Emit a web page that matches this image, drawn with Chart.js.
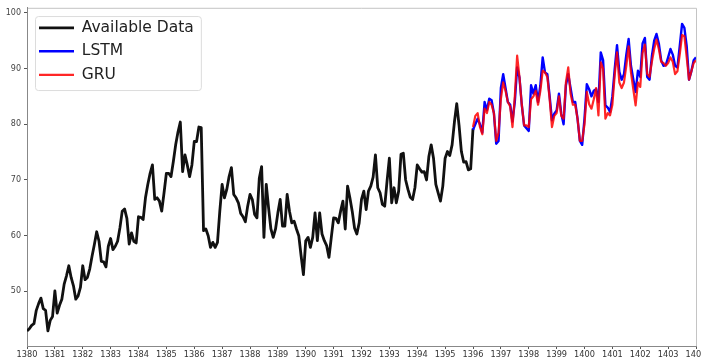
<!DOCTYPE html>
<html>
<head>
<meta charset="utf-8">
<script src="https://cdn.jsdelivr.net/npm/chart.js@4.4.1/dist/chart.umd.min.js"></script>
<style>
  html, body { margin: 0; padding: 0; background: #fff; overflow: hidden; }
  #wrap { position: relative; width: 711px; height: 362px; }
</style>
</head>
<body>
<div id="wrap"><canvas id="forecastChart"></canvas></div>
<script>
// monthly series, first value at the start of the year
const startYear = 1380;
const forecastYear = 1396;
const yearTicks = [1380, 1381, 1382, 1383, 1384, 1385, 1386, 1387, 1388, 1389, 1390, 1391, 1392,
                   1393, 1394, 1395, 1396, 1397, 1398, 1399, 1400, 1401, 1402, 1403, 1404];
const valueTicks = [50, 60, 70, 80, 90, 100];

const availableData = [
  42.9, 43.3, 43.9, 44.2, 46.6, 47.8, 48.8, 46.9, 46.6, 42.9, 44.8, 45.5,
  50.1, 46.1, 47.5, 48.6, 51.3, 52.8, 54.6, 52.5, 51.0, 48.6, 49.2, 50.7,
  54.6, 52.1, 52.5, 54.0, 56.3, 58.4, 60.7, 59.0, 55.4, 55.3, 54.4, 58.1,
  59.5, 57.5, 58.1, 59.0, 61.4, 64.4, 64.8, 63.1, 58.5, 60.5, 59.0, 58.7,
  63.4, 63.3, 62.9, 66.8, 69.2, 71.2, 72.7, 66.5, 66.8, 66.2, 64.4, 67.7,
  71.2, 71.2, 70.6, 73.3, 76.3, 78.6, 80.4, 71.5, 74.5, 72.7, 70.6, 72.7,
  76.9, 76.9, 79.5, 79.4, 60.9, 61.2, 60.0, 57.9, 58.8, 57.9, 58.8, 64.4,
  69.2, 66.8, 68.3, 70.6, 72.2, 67.4, 66.8, 65.9, 64.0, 63.4, 62.5, 65.3,
  67.4, 66.5, 63.8, 63.2, 70.3, 72.4, 59.7, 69.2, 65.0, 61.2, 59.7, 61.2,
  64.1, 66.5, 61.7, 61.7, 67.4, 64.4, 62.3, 62.6, 61.2, 60.0, 56.4, 53.0,
  59.1, 59.7, 57.9, 59.7, 64.1, 59.1, 64.1, 60.3, 59.1, 58.2, 56.1, 59.7,
  63.2, 63.1, 62.3, 64.4, 66.2, 61.2, 68.9, 66.8, 64.4, 61.4, 60.3, 62.3,
  66.5, 68.0, 64.7, 68.0, 68.9, 70.5, 74.5, 68.6, 67.7, 65.6, 65.3, 69.8,
  73.9, 65.9, 68.6, 65.9, 68.0, 74.6, 74.8, 70.0, 68.3, 66.9, 66.5, 68.6,
  72.7, 72.0, 71.4, 71.5, 70.0, 74.2, 76.3, 73.9, 69.2, 67.7, 66.2, 68.9,
  73.9, 75.1, 74.4, 76.3, 80.4, 83.7, 79.8, 75.1, 73.2, 73.3, 71.8, 72.0,
  79.2
];

const lstmData = [
  79.0, 80.0, 81.0, 80.0, 78.5, 84.0, 82.5, 84.6, 84.3, 82.0, 76.5, 77.0,
  86.5, 89.0, 86.5, 84.0, 83.5, 80.5, 84.0, 90.2, 88.4, 83.5, 79.8, 79.3,
  78.8, 87.0, 85.5, 87.0, 84.0, 87.0, 92.0, 89.3, 89.0, 85.0, 80.7, 81.9,
  82.5, 85.5, 81.9, 80.0, 87.0, 89.0, 86.5, 84.0, 84.0, 81.0, 77.0, 76.3,
  81.0, 87.2, 86.3, 85.0, 86.0, 86.3, 84.0, 92.9, 91.5, 83.4, 83.0, 82.2,
  85.0, 89.9, 94.2, 89.4, 88.0, 89.0, 92.5, 95.3, 90.5, 88.1, 85.8, 89.6,
  88.5, 94.5, 95.5, 88.5, 88.0, 92.2, 95.0, 96.2, 94.5, 91.5, 90.5, 90.6,
  92.0, 93.5, 92.5, 90.5, 90.2, 94.0, 98.0, 97.3, 94.0, 88.0, 89.5, 91.5,
  92.0
];

const gruData = [
  79.5, 81.5, 82.0, 79.5, 78.2, 82.8, 82.0, 84.0, 83.5, 82.0, 77.0, 78.5,
  84.5, 87.5, 86.0, 84.0, 83.2, 79.5, 85.0, 92.3, 88.5, 83.5, 79.8, 79.8,
  79.5, 84.5, 85.0, 86.0, 83.5, 86.0, 89.6, 89.3, 88.5, 84.5, 79.5, 81.5,
  82.0, 85.0, 81.5, 81.0, 87.5, 90.2, 85.5, 83.5, 83.5, 81.0, 77.0, 77.0,
  80.0, 85.8, 83.6, 82.8, 84.5, 86.5, 81.6, 91.1, 90.0, 81.0, 82.0, 81.6,
  83.5, 88.8, 92.9, 87.5, 86.5, 87.5, 90.5, 94.0, 89.3, 86.3, 83.4, 87.5,
  86.7, 92.8, 94.3, 89.0, 88.5, 91.2, 93.5, 95.2, 93.5, 91.2, 91.0, 90.5,
  91.0, 92.0, 91.2, 89.0, 89.5, 92.5, 96.0, 95.8, 92.0, 88.0, 89.5, 91.0,
  91.5
];

const monthly = (values, fromYear) => values.map((v, i) => ({ x: fromYear + i / 12, y: v }));

const FONT = 'DejaVu Sans';

// box around the plot and the legend frame, drawn before anything else
const framePlugin = {
  id: 'framePlugin',
  afterLayout(chart) {
    const lg = chart.legend, a = chart.chartArea;
    lg.left = a.left + 4;
    lg.top = a.top + 4.25;
    lg.right = a.right;
    lg.bottom = a.bottom;
  },
  beforeDraw(chart) {
    const { ctx, chartArea: a } = chart;
    ctx.save();
    ctx.fillStyle = '#fff';
    ctx.fillRect(0, 0, chart.width, chart.height);

    ctx.strokeStyle = '#c4c4c4';
    ctx.lineWidth = 1;
    ctx.beginPath();
    ctx.moveTo(a.left, a.top + 0.5);
    ctx.lineTo(a.right + 0.5, a.top + 0.5);
    ctx.lineTo(a.right + 0.5, a.bottom);
    ctx.stroke();

    // legend frame
    const lg = chart.legend;
    const lab = lg.options.labels;
    ctx.font = `${lab.font.size}px ${FONT}`;
    const maxW = Math.max(...lg.legendItems.map(it => ctx.measureText(it.text).width));
    const x0 = lg.left + 4, y0 = lg.top + 4;
    const x1 = lg.left + lab.padding + lab.pointStyleWidth + lab.font.size / 2 + maxW + 7;
    const y1 = y0 + 74;
    ctx.strokeStyle = '#dcdcdc';
    ctx.beginPath();
    ctx.roundRect(x0 + 0.5, y0 + 0.5, x1 - x0, y1 - y0, 3);
    ctx.fillStyle = 'rgba(255,255,255,0.85)';
    ctx.fill();
    ctx.stroke();
    ctx.restore();
  }
};

new Chart(document.getElementById('forecastChart'), {
  type: 'line',
  data: {
    datasets: [
      {
        label: 'Available Data',
        data: monthly(availableData, startYear),
        borderColor: '#111',
        backgroundColor: '#111',
        borderWidth: 2.8,
        order: 2
      },
      {
        label: 'LSTM',
        data: monthly(lstmData, forecastYear),
        borderColor: '#0000ff',
        backgroundColor: '#0000ff',
        borderWidth: 2.4,
        order: 1
      },
      {
        label: 'GRU',
        data: monthly(gruData, forecastYear),
        borderColor: 'rgba(255,0,0,0.85)',
        backgroundColor: 'rgba(255,0,0,0.85)',
        borderWidth: 2.2,
        order: 0
      }
    ]
  },
  options: {
    responsive: true,
    maintainAspectRatio: false,
    animation: false,
    events: [],
    layout: { padding: { top: 5, right: 15, left: 0, bottom: 0 } },
    elements: {
      point: { radius: 0 },
      line: { tension: 0, borderJoinStyle: 'round' }
    },
    scales: {
      x: {
        type: 'linear',
        min: 1380,
        max: 1404,
        afterBuildTicks: (scale) => { scale.ticks = yearTicks.map(v => ({ value: v })); },
        afterFit: (scale) => { scale.height = 16; },
        border: { display: true, color: '#888', width: 1 },
        grid: { drawOnChartArea: false, drawTicks: true, tickLength: 3, color: '#555' },
        ticks: {
          autoSkip: false,
          maxRotation: 0,
          padding: 1,
          color: '#333',
          font: { family: FONT, size: 8.2 },
          callback: (v) => String(v)
        }
      },
      y: {
        min: 40.2,
        max: 100.9,
        afterBuildTicks: (scale) => { scale.ticks = valueTicks.map(v => ({ value: v })); },
        afterFit: (scale) => { scale.width = 27; },
        border: { display: true, color: '#888', width: 1 },
        grid: { drawOnChartArea: false, drawTicks: true, tickLength: 3, color: '#555' },
        ticks: {
          padding: 3,
          color: '#444',
          font: { family: FONT, size: 8 },
          callback: (v) => String(v)
        }
      }
    },
    plugins: {
      title: { display: false },
      tooltip: { enabled: false },
      legend: {
        position: 'chartArea',
        align: 'start',
        labels: {
          usePointStyle: true,
          pointStyle: 'line',
          pointStyleWidth: 35,
          padding: 8,
          color: '#222',
          font: { family: FONT, size: 15.5 },
          sort: (a, b) => a.datasetIndex - b.datasetIndex
        }
      }
    }
  },
  plugins: [framePlugin]
});
</script>
</body>
</html>
